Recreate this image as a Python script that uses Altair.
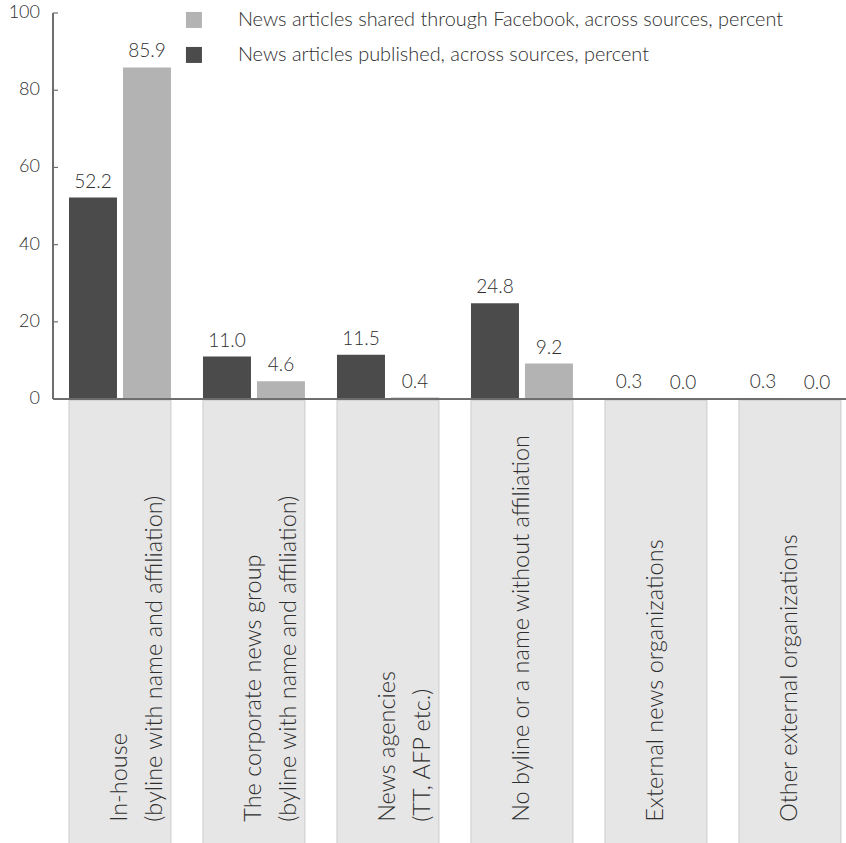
import altair as alt
import pandas as pd

categories = [
    "In-house\n(byline with name and affiliation)",
    "The corporate news group\n(byline with name and affiliation)",
    "News agencies\n(TT, AFP etc.)",
    "No byline or a name without affiliation",
    "External news organizations",
    "Other external organizations",
]
published = [52.2, 11.0, 11.5, 24.8, 0.3, 0.3]
shared = [85.9, 4.6, 0.4, 9.2, 0.0, 0.0]
series_published = "News articles published, across sources, percent"
series_shared = "News articles shared through Facebook, across sources, percent"
y_ticks = [0, 20, 40, 60, 80, 100]

rows = []
for c, p, s in zip(categories, published, shared):
    rows.append({"category": c, "series": series_published, "value": p})
    rows.append({"category": c, "series": series_shared, "value": s})
df = pd.DataFrame(rows)
cat_df = pd.DataFrame({"category": categories})
tick_df = pd.DataFrame({"tick": y_ticks})

FONT = "Lato"
W = 300
TXT = "#2e2e2e"
AX = "#6e6e6e"

xscale = alt.Scale(domain=categories, paddingInner=0.239, paddingOuter=0.0785, align=0.76)
yscale = alt.Scale(domain=[-115, 100], nice=False, zero=False)
xoff = alt.XOffset("series:N", scale=alt.Scale(domain=[series_published, series_shared],
                                               paddingInner=0.111, paddingOuter=0))

boxes = alt.Chart(cat_df).mark_bar(color="#e6e6e6", stroke="#cbcbcb", strokeWidth=1).encode(
    x=alt.X("category:N", scale=xscale, axis=None),
    y=alt.YDatum(-116, scale=yscale, axis=None),
    y2=alt.Y2Datum(-0.3),
)

cat_text = alt.Chart(cat_df).mark_text(
    angle=270, align="left", baseline="middle", font=FONT, fontSize=23.5, fontWeight=W,
    color=TXT, lineBreak="\n", lineHeight=35,
).encode(
    x=alt.X("category:N", scale=xscale, axis=None),
    y=alt.YDatum(-109.5, axis=None),
    text="category:N",
)

bars = alt.Chart(df).mark_bar().encode(
    x=alt.X("category:N", scale=xscale, axis=None),
    xOffset=xoff,
    y=alt.Y("value:Q", scale=yscale, axis=None),
    color=alt.Color("series:N",
                    scale=alt.Scale(domain=[series_shared, series_published],
                                    range=["#b3b3b3", "#4b4b4b"]),
                    legend=alt.Legend(orient="none", legendX=131, legendY=-3, title=None,
                                      symbolType="square", symbolSize=256, symbolStrokeWidth=0,
                                      labelFont=FONT, labelFontSize=19.9, labelFontWeight=W,
                                      labelColor=TXT, labelOffset=34, rowPadding=14,
                                      labelLimit=800)),
)

val_text = alt.Chart(df).mark_text(
    baseline="bottom", dy=-6, font=FONT, fontSize=19, fontWeight=W, color=TXT,
).encode(
    x=alt.X("category:N", scale=xscale, axis=None),
    xOffset=xoff,
    y=alt.Y("value:Q", axis=None),
    text=alt.Text("value:Q", format=".1f"),
)

tick_labels = alt.Chart(tick_df).mark_text(
    align="right", baseline="middle", dx=-13, font=FONT, fontSize=18, fontWeight=W, color=TXT,
).encode(
    x=alt.value(0),
    y=alt.Y("tick:Q", axis=None),
    text=alt.Text("tick:Q"),
)

x_axis_line = alt.Chart(cat_df).mark_rule(color=AX, strokeWidth=1.2).encode(
    x=alt.value(0), x2=alt.value(793), y=alt.YDatum(0, axis=None),
)
y_axis_line = alt.Chart(cat_df).mark_rule(color=AX, strokeWidth=1.2).encode(
    x=alt.value(0), y=alt.YDatum(0, axis=None), y2=alt.Y2Datum(100),
)
y_ticks_marks = alt.Chart(tick_df).mark_rule(color=AX, strokeWidth=1.2).encode(
    x=alt.value(0), x2=alt.value(5), y=alt.Y("tick:Q", axis=None),
)

chart = alt.layer(
    boxes, cat_text, bars, val_text, tick_labels, x_axis_line, y_axis_line, y_ticks_marks
).properties(
    width=793, height=830,
    background="white",
    autosize=alt.AutoSizeParams(type="none"),
    padding={"left": 53, "top": 13, "right": 0, "bottom": 0},
).configure_view(stroke=None)

chart.save("out.html", embed_options={"renderer": "svg", "actions": False})
